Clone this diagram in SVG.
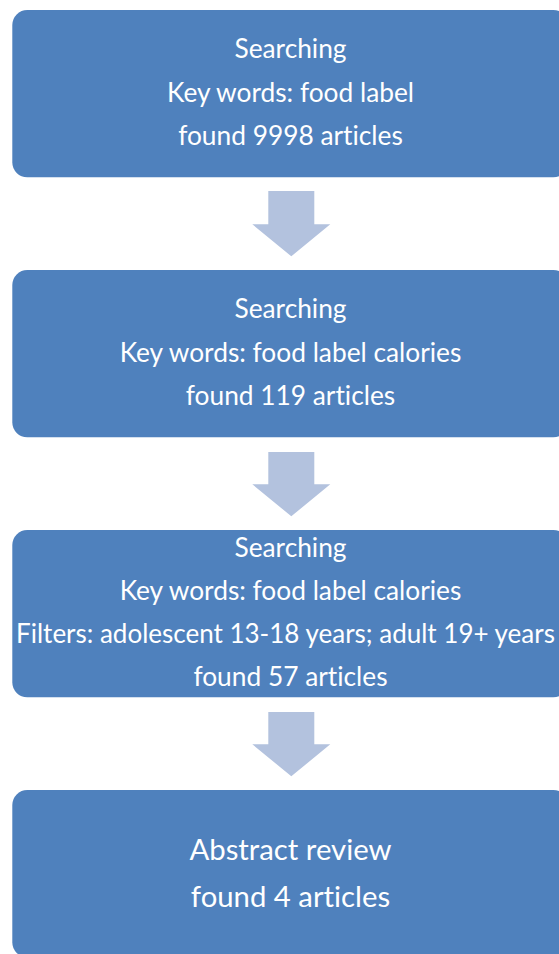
<svg xmlns="http://www.w3.org/2000/svg" width="559" height="954" viewBox="0 0 559 954">
  <style>
    .box { fill: #4F81BD; }
    .arrow { fill: #B3C2DE; }
    .lbl { font-family: "Lato", "Open Sans", "Liberation Sans", sans-serif; fill: #FFFFFF; text-anchor: middle; font-variant-ligatures: none; }
    .sm { font-size: 26.3px; }
    .lg { font-size: 29.3px; }
  </style>
  <rect width="559" height="954" fill="#FFFFFF"/>

  <g id="connectors">
    <polygon class="arrow" points="268.3,191 314.3,191 314.3,224.3 330.3,224.3 291.3,256.3 252.3,224.3 268.3,224.3"/>
    <polygon class="arrow" points="268.3,452 314.3,452 314.3,484.3 330.3,484.3 291.3,516.3 252.3,484.3 268.3,484.3"/>
    <polygon class="arrow" points="268.3,712 314.3,712 314.3,744.3 330.3,744.3 291.3,776.3 252.3,744.3 268.3,744.3"/>
  </g>

  <g id="step1">
    <rect class="box" x="12.3" y="10" width="556" height="167.3" rx="15" ry="15"/>
    <text class="lbl sm" x="290.5" y="58.3">Searching</text>
    <text class="lbl sm" x="290.5" y="101.5">Key words: food label</text>
    <text class="lbl sm" x="290.5" y="144.5">found 9998 articles</text>
  </g>

  <g id="step2">
    <rect class="box" x="12.3" y="270" width="556" height="167.3" rx="15" ry="15"/>
    <text class="lbl sm" x="290.5" y="318.3">Searching</text>
    <text class="lbl sm" x="290.5" y="361.5">Key words: food label calories</text>
    <text class="lbl sm" x="290.5" y="404.5">found 119 articles</text>
  </g>

  <g id="step3">
    <rect class="box" x="12.3" y="530" width="556" height="167.3" rx="15" ry="15"/>
    <text class="lbl sm" x="290.5" y="557">Searching</text>
    <text class="lbl sm" x="290.5" y="600">Key words: food label calories</text>
    <text class="lbl" style="font-size:26px" x="285.5" y="643">Filters: adolescent 13-18 years; adult 19+ years</text>
    <text class="lbl sm" x="290.5" y="686">found 57 articles</text>
  </g>

  <g id="step4">
    <rect class="box" x="12.3" y="790" width="556" height="167.3" rx="15" ry="15"/>
    <text class="lbl lg" x="290.5" y="860">Abstract review</text>
    <text class="lbl lg" x="290.5" y="906.7">found 4 articles</text>
  </g>
</svg>
